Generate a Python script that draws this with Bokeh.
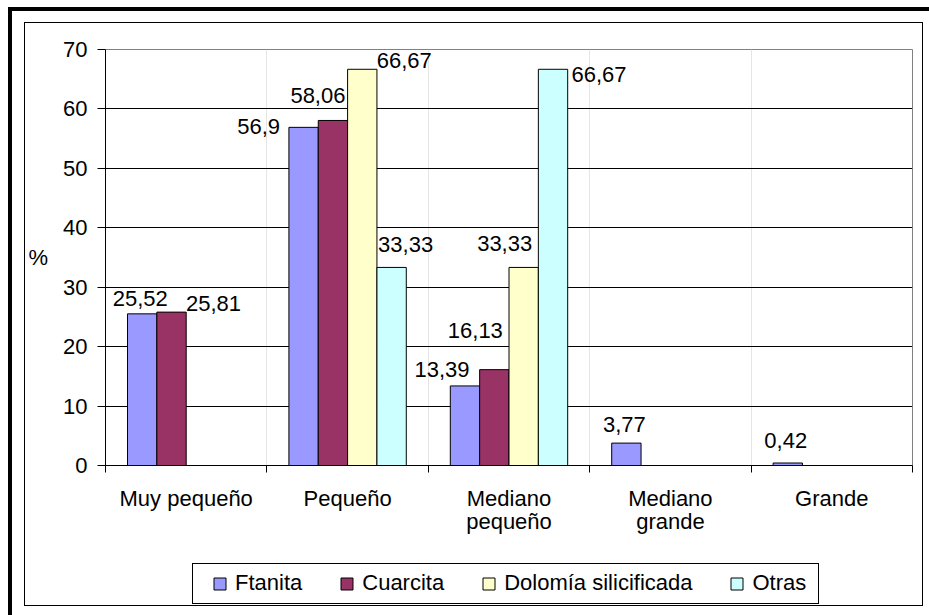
from bokeh.plotting import figure
from bokeh.layouts import column
from bokeh.models import (ColumnDataSource, Range1d, LinearAxis, FixedTicker, Legend,
                          LegendItem, Grid)
from bokeh.transform import dodge
from bokeh.core.properties import value
from bokeh.embed import file_html
from bokeh.resources import INLINE

# ---------------- data ----------------
categories = ["Muy pequeño", "Pequeño", "Mediano\npequeño", "Mediano\ngrande", "Grande"]
series_names = ["Ftanita", "Cuarcita", "Dolomía silicificada", "Otras"]
ftanita = [25.52, 56.9, 13.39, 3.77, 0.42]
cuarcita = [25.81, 58.06, 16.13, None, None]
dolomia = [None, 66.67, 33.33, None, None]
otras = [None, 33.33, 66.67, None, None]
y_ticks = [0, 10, 20, 30, 40, 50, 60, 70]
y_label = "%"

# ---------------- style ----------------
colors = ["#9999FF", "#993366", "#FFFFCC", "#CCFFFF"]
# data-label offsets in px (dx right, dy up) from the top-centre of each bar
label_offsets = [
    [(-2, 15), (-45, 1), (-23, 16), (-2, 19), (-2, 23)],
    [(42, 9), (-15, 25), (-19, 39), None, None],
    [None, (42, 9), (-19, 24), None, None],
    [None, (14, 23), (46, -5), None, None],
]
FONT = "Liberation Sans"
FS = "22px"
W, H = 929, 615
H_MAIN = 540
H_LEG = H - H_MAIN


def line(x, y, w, h, c="#000"):
    return f"linear-gradient({c},{c}) {x}px {y}px / {w}px {h}px no-repeat"


frame_layers = [
    # thick outer frame (left + top visible)
    line(8, 7, 4, 608), line(8, 7, 921, 4),
    # thin inner frame
    line(24, 22, 1, 584), line(922, 22, 1, 584), line(24, 22, 899, 1), line(24, 605, 899, 1),
    # legend box
    line(192, 563, 1, 41), line(818, 563, 1, 41), line(192, 563, 627, 1), line(192, 603, 627, 1),
]

series = [ftanita, cuarcita, dolomia, otras]
n_cat = len(categories)
bar_w = 1 / 5.5  # Excel gap width 150%

nan = float("nan")
data = {"x": [i + 0.5 for i in range(n_cat)]}
for j, s in enumerate(series):
    data[f"s{j}"] = [nan if v is None else v for v in s]
src = ColumnDataSource(data)

p = figure(width=W, height=H_MAIN, output_backend="svg", toolbar_location=None,
           x_range=Range1d(0, n_cat), y_range=Range1d(y_ticks[0], y_ticks[-1]),
           x_axis_location=None, y_axis_location=None,
           min_border_left=105, min_border_right=17, min_border_top=49, min_border_bottom=75,
           background_fill_color="white", border_fill_color=None)
p.outline_line_color = "#808080"
p.outline_line_width = 1

# y axis
yaxis = LinearAxis(ticker=FixedTicker(ticks=y_ticks), axis_label=y_label,
                   axis_label_orientation="horizontal")
yaxis.axis_label_text_font = FONT
yaxis.axis_label_text_font_size = FS
yaxis.axis_label_text_font_style = "normal"
yaxis.axis_label_text_color = "black"
yaxis.axis_label_standoff = 12
yaxis.major_label_text_font = FONT
yaxis.major_label_text_font_size = FS
yaxis.major_label_text_color = "black"
yaxis.major_label_standoff = 10
yaxis.major_tick_out = 8
yaxis.major_tick_in = 0
yaxis.minor_tick_line_color = None
yaxis.axis_line_color = "black"
yaxis.major_tick_line_color = "black"
p.add_layout(yaxis, "left")
p.add_layout(Grid(dimension=1, ticker=yaxis.ticker, grid_line_color="black", grid_line_width=1))

# x axis: labels at centres, tick marks at boundaries
centers = [i + 0.5 for i in range(n_cat)]
xaxis = LinearAxis(ticker=FixedTicker(ticks=centers, minor_ticks=list(range(n_cat + 1))),
                   major_label_overrides={c: lab for c, lab in zip(centers, categories)})
xaxis.major_tick_line_color = None
xaxis.major_tick_out = 0
xaxis.major_tick_in = 0
xaxis.minor_tick_out = 7
xaxis.minor_tick_in = 0
xaxis.minor_tick_line_color = "black"
xaxis.axis_line_color = "black"
xaxis.major_label_text_font = FONT
xaxis.major_label_text_font_size = FS
xaxis.major_label_text_color = "black"
xaxis.major_label_text_line_height = 0.95
xaxis.major_label_standoff = 13
p.add_layout(xaxis, "below")

# bars
for j, name in enumerate(series_names):
    p.vbar(x=dodge("x", (j - 1.5) * bar_w, range=p.x_range), top=f"s{j}", width=bar_w,
           fill_color=colors[j], line_color="black", line_width=1, source=src)

# data labels
lx, ly, lt, lxo, lyo = [], [], [], [], []
for j, s in enumerate(series):
    for i, v in enumerate(s):
        if v is None:
            continue
        dx, dy = label_offsets[j][i]
        lx.append(i + 0.5 + (j - 1.5) * bar_w)
        ly.append(v)
        lt.append(f"{v:g}".replace(".", ","))
        lxo.append(dx)
        lyo.append(-dy)
lsrc = ColumnDataSource(dict(x=lx, y=ly, text=lt, xo=lxo, yo=lyo))
p.text(x="x", y="y", text="text", x_offset="xo", y_offset="yo", source=lsrc,
       text_font=value(FONT), text_font_size=FS, text_align="center",
       text_baseline="middle", text_color="black")

# legend strip: a second figure (its frame is aligned with the main one)
pl = figure(width=W, height=H_LEG, output_backend="svg", toolbar_location=None,
            x_range=Range1d(0, 1), y_range=Range1d(0, 1),
            x_axis_location=None, y_axis_location=None,
            min_border=0, background_fill_color=None, border_fill_color=None,
            outline_line_color=None)
pl.grid.visible = False
# legend proxies: one empty (NaN) row each, so nothing is drawn but the key swatch
proxy = ColumnDataSource(dict(x=[nan], top=[nan]))
leg_renderers = [pl.vbar(x="x", top="top", width=0.1, fill_color=c, line_color="black",
                         line_width=1, source=proxy)
                 for c in colors]
legend = Legend(items=[LegendItem(label=n, renderers=[r]) for n, r in zip(series_names, leg_renderers)],
                orientation="horizontal", location=(107, 19), margin=0, padding=0,
                spacing=37, label_standoff=8, glyph_width=15, glyph_height=15,
                border_line_color=None, background_fill_alpha=0,
                label_text_font=FONT, label_text_font_size=FS, label_text_color="black")
pl.add_layout(legend, "center")

layout = column(p, pl, spacing=0,
                styles={"background": ", ".join(frame_layers) + ", #ffffff"})

open("out.html", "w").write(file_html(layout, INLINE))
